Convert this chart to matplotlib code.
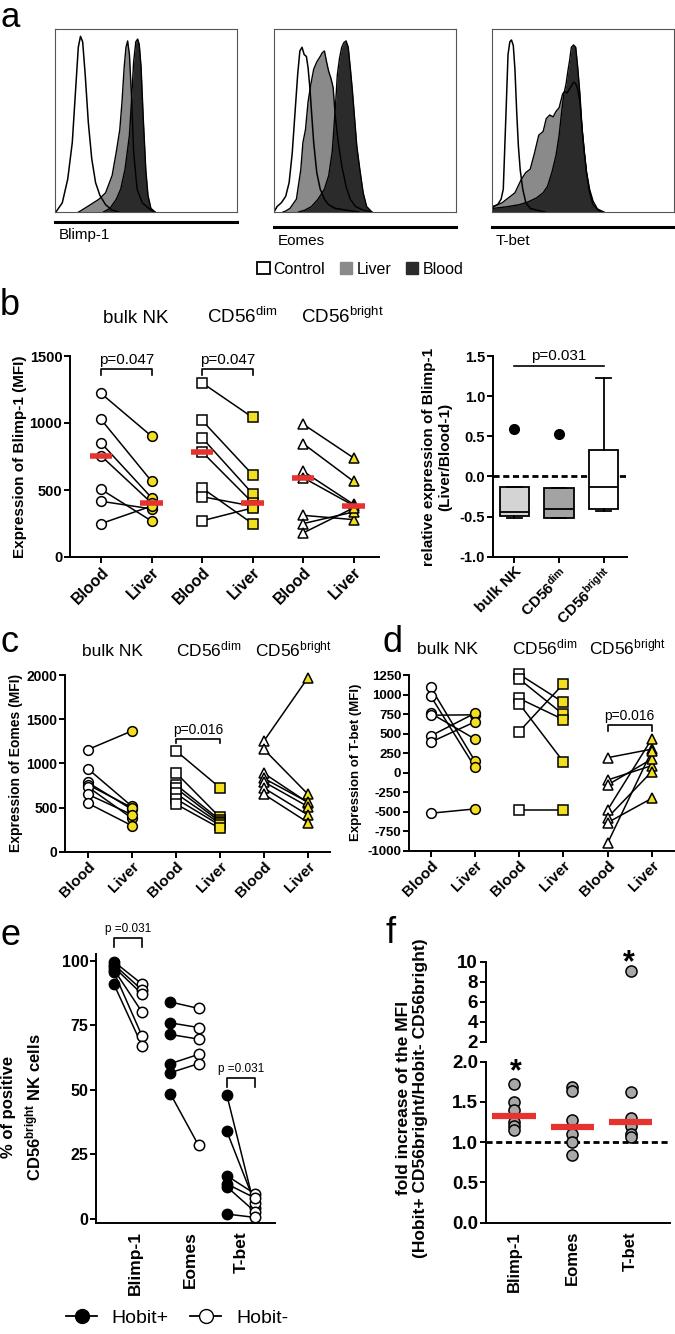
import numpy as np
import matplotlib.pyplot as plt
from matplotlib.patches import Patch
from matplotlib.lines import Line2D

plt.rcParams['font.family'] = ['Liberation Sans', 'DejaVu Sans']
plt.rcParams['mathtext.fontset'] = 'custom'
plt.rcParams['mathtext.rm'] = 'Liberation Sans'
plt.rcParams['mathtext.it'] = 'Liberation Sans:italic'
plt.rcParams['mathtext.bf'] = 'Liberation Sans:bold'

blimp_ctrl_x = [0.5, 4, 7, 9.5, 11.4, 12.8, 14, 15.2, 16.6, 18.3, 20.2, 22.3, 24.7, 27.8, 31.4, 35]
blimp_ctrl_y = [0, 5, 18, 38, 68, 90, 96, 93, 75, 49, 29, 16, 9, 4, 1, 0]
blimp_liver_x = [13, 14.7, 19.5, 24.2, 27.8, 31.4, 33.7, 35.6, 36.8, 38, 39, 39.9, 40.9, 42, 43.2, 45.1, 48, 52.7, 55]
blimp_liver_y = [0, 1, 4, 7, 10.5, 20, 33, 45, 60, 79, 90, 93.5, 86, 64, 33, 12.5, 5, 1, 0]
blimp_blood_x = [26.6, 30.2, 33.7, 36.1, 38.5, 40.9, 42, 43.2, 44.4, 45.4, 46.3, 47.3, 48.5, 49.9, 51.1, 52.7, 55]
blimp_blood_y = [0, 2, 7, 12.5, 23.5, 42, 60, 82, 93, 94.5, 91.5, 79, 51, 23, 9, 2, 0]

eomes_ctrl_x = [0, 1.7, 4, 6.4, 8.3, 10, 11.6, 13, 14.2, 15.4, 16.6, 17.8, 18.7, 19.7, 20.6, 21.8, 23.5, 25.4, 27.7, 30, 33.6, 39.6, 46.7]
eomes_ctrl_y = [0, 3, 5, 8.5, 16, 32, 55, 75, 88, 90, 86, 85, 79, 68, 55, 38, 21.5, 12.5, 7, 4, 2, 1, 0]
eomes_liver_x = [5, 6.4, 8.8, 12.3, 14.7, 15.9, 17.3, 18.7, 20.1, 21.8, 23.5, 25.4, 26.5, 27.7, 28.9, 30, 31.3, 32.5, 33.6, 35.3, 37.2, 39.6, 41.9, 44.8, 49, 53.8]
eomes_liver_y = [0, 0.5, 2, 7, 23, 38, 45, 60, 69, 78, 82, 85, 87, 88, 82, 77, 73, 68, 53, 38, 25.5, 14, 7, 3, 1, 0]
eomes_blood_x = [13.5, 17, 20.6, 24.2, 27.7, 30.1, 32, 32.9, 33.9, 34.8, 36, 37.2, 38.4, 39.6, 40.8, 41.9, 43.1, 44.3, 45.5, 47.2, 49, 50.9, 53.8]
eomes_blood_y = [0, 1, 3, 7, 12.5, 20, 33, 45.5, 60, 75, 84, 90, 92.6, 93.5, 90, 79, 66, 51, 36, 23, 10.5, 3, 0]

tbet_ctrl_x = [0, 0.7, 3.1, 5, 6.2, 6.9, 7.9, 8.8, 9.8, 10.7, 11.7, 12.6, 13.6, 14.5, 15.5, 16.9, 18.6, 21, 24.5, 29.3]
tbet_ctrl_y = [0, 3, 4, 7, 12.5, 32, 60, 86, 93, 94, 91, 78, 54, 36, 23, 12.5, 5, 2, 1, 0]
tbet_liver_x = [0, 0.7, 5.5, 9, 12.6, 16.2, 18.6, 21, 23.3, 25.7, 28.1, 29.8, 31.7, 33.6, 35.2, 36.9, 38.8, 40, 41.2, 43.1, 44.8, 46, 47.1, 48.3, 49.5, 50.7, 51.9, 53.6, 55.5, 57.9, 61.4]
tbet_liver_y = [0, 3, 5, 7.7, 10.5, 18, 21.6, 23.4, 32, 42, 44, 51, 53, 52, 55, 57, 64.5, 66, 65, 68, 71, 70, 67, 60, 45.5, 33, 22, 12.5, 6, 1.7, 0]
tbet_blood_x = [0, 0.7, 7.9, 15, 19.8, 24.5, 28.1, 30.5, 32.9, 35.2, 36.9, 38.3, 39.5, 40.7, 41.7, 42.6, 43.6, 44.8, 46, 47.1, 48.3, 49.5, 50.7, 51.9, 53.6, 55.5, 59, 61.4]
tbet_blood_y = [0, 2, 2.8, 4, 5.5, 7.7, 10.5, 14, 21.6, 31, 42, 55, 64.5, 70, 77, 82.5, 90, 91.3, 90, 79, 64.5, 45.5, 33, 22, 10.5, 4, 0.4, 0]

# ---- b: Blimp-1 MFI, paired blood / liver ----
b_bulk_blood = [1221, 1027, 852, 755, 505, 416, 249]
b_bulk_liver = [902, 566, 443, 404, 269, 359, 380]
b_dim_blood = [1300, 1020, 890, 785, 515, 450, 270]
b_dim_liver = [1042, 615, 473, 406, 249, 380, 366]
b_bri_blood = [992, 847, 640, 593, 311, 249, 179]
b_bri_liver = [740, 565, 393, 384, 279, 336, 366]

# b right: box plot of liver/blood - 1
box_groups = ['bulk NK', 'CD56$^{\\mathbf{dim}}$', 'CD56$^{\\mathbf{bright}}$']
box_q1 = [-0.498, -0.514, -0.41]
box_med = [-0.448, -0.41, -0.136]
box_q3 = [-0.128, -0.149, 0.329]
box_lo = [-0.514, -0.52, -0.43]
box_hi = [-0.128, -0.149, 1.23]
box_out = [[0.59], [0.528], []]

# ---- c: Eomes MFI ----
c_bulk_blood = [1155, 940, 785, 760, 735, 650, 550]
c_bulk_liver = [1366, 515, 480, 500, 380, 420, 295]
c_dim_blood = [1143, 894, 760, 720, 660, 600, 540]
c_dim_liver = [725, 390, 360, 340, 320, 300, 265]
c_bri_blood = [1253, 1158, 887, 830, 790, 720, 650]
c_bri_liver = [1970, 650, 555, 560, 510, 415, 330]

# ---- d: T-bet MFI ----
d_bulk_blood = [1090, 980, 760, 735, 470, 390, -520]
d_bulk_liver = [150, 70, 430, 740, 760, 650, -465]
d_dim_blood = [1260, 1200, 950, 885, 525, -480]
d_dim_liver = [900, 745, 680, 140, 1135, -480]
d_bri_blood = [191, -95, -159, -479, -578, -641, -906]
d_bri_liver = [300, 90, 174, 430, 12, -330, 276]

# ---- e: % positive CD56bright, Hobit+ vs Hobit- ----
e_targets = ['Blimp-1', 'Eomes', 'T-bet']
e_blimp_pos = [99.6, 98.5, 97.5, 96.5, 95.5, 90.8]
e_blimp_neg = [90.9, 88.6, 87.0, 80.0, 70.7, 67.0]
e_eomes_pos = [84.0, 75.9, 71.4, 60.1, 56.6, 48.4]
e_eomes_neg = [81.5, 74.1, 69.6, 63.7, 60.1, 28.4]
e_tbet_pos = [48.0, 33.9, 16.7, 13.5, 12.4, 1.8]
e_tbet_neg = [4.0, 6.0, 9.6, 8.0, 2.7, 0.5]

# ---- f: fold increase of MFI ----
f_blimp = [1.72, 1.5, 1.4, 1.25, 1.2, 1.15]
f_eomes = [1.68, 1.63, 1.28, 1.10, 1.0, 0.84]
f_tbet = [9.1, 1.62, 1.3, 1.2, 1.1, 1.07]

YEL = '#f2df1f'
RED = '#e53430'
LIV = '#8a8a8a'
BLD = '#2b2b2b'
GRY = '#a8a8a8'

W, H = 675, 1334
fig = plt.figure(figsize=(W / 100, H / 100), dpi=100)


def add_ax(x0, y0, x1, y1):
    # pixel box, y from top of the picture
    return fig.add_axes([x0 / W, 1 - y1 / H, (x1 - x0) / W, (y1 - y0) / H])


def ftext(x, y, s, **kw):
    return fig.text(x / W, 1 - y / H, s, **kw)


def fline(xs, ys, **kw):
    fig.add_artist(Line2D([x / W for x in xs], [1 - y / H for y in ys], **kw))


def fit_x(ax, left, right, first, step):
    ax.set_xlim(1 - (first - left) / step, 1 + (right - first) / step)


def prism(ax, yticks, ylabels, fs):
    for s in ['top', 'right']:
        ax.spines[s].set_visible(False)
    for s in ['left', 'bottom']:
        ax.spines[s].set_linewidth(1.4)
    ax.tick_params(direction='out', length=4, width=1.4, pad=1.5)
    ax.set_yticks(yticks)
    ax.set_yticklabels(ylabels, fontsize=fs, fontweight='bold')


def paired(ax, x0, blood, liver, marker, ms=7):
    for b, l in zip(blood, liver):
        ax.plot([x0, x0 + 1], [b, l], color='k', lw=1.1, zorder=2, clip_on=False)
    ax.plot([x0] * len(blood), blood, ls='none', marker=marker, ms=ms, mfc='white',
            mec='k', mew=1.1, zorder=3, clip_on=False)
    ax.plot([x0 + 1] * len(liver), liver, ls='none', marker=marker, ms=ms, mfc=YEL,
            mec='k', mew=1.1, zorder=3, clip_on=False)


def bracket(ax, x1, x2, y, drop, txt, fs, gap):
    ax.plot([x1, x1, x2, x2], [y - drop, y, y, y - drop], color='k', lw=1.2, clip_on=False)
    ax.text((x1 + x2) / 2, y + gap, txt, ha='center', va='bottom', fontsize=fs)


# ================= a =================
hist = [
    ('Blimp-1', 55, blimp_ctrl_x, blimp_ctrl_y, blimp_liver_x, blimp_liver_y, blimp_blood_x, blimp_blood_y, 222, 235),
    ('Eomes', 274, eomes_ctrl_x, eomes_ctrl_y, eomes_liver_x, eomes_liver_y, eomes_blood_x, eomes_blood_y, 227, 241),
    ('T-bet', 492, tbet_ctrl_x, tbet_ctrl_y, tbet_liver_x, tbet_liver_y, tbet_blood_x, tbet_blood_y, 227, 241),
]
for name, x0, cx, cy, lx, ly, bx, by, uy, ty in hist:
    ax = add_ax(x0, 29, x0 + 182, 212)
    ax.fill_between(lx, ly, 0, color=LIV, lw=0)
    ax.fill_between(bx, by, 0, color=BLD, lw=0)
    ax.plot(lx, ly, color='k', lw=1.0)
    ax.plot(bx, by, color='k', lw=1.0)
    ax.plot(cx, cy, color='k', lw=1.1)
    ax.set_xlim(0, 100)
    ax.set_ylim(0, 100)
    ax.set_xticks([])
    ax.set_yticks([])
    for s in ax.spines.values():
        s.set_linewidth(0.8)
        s.set_color('#555555')
    fline([x0, x0 + 182], [uy, uy], color='k', lw=2.2)
    ftext(x0 + 4, ty, name, ha='left', va='center', fontsize=11)

fig.legend(handles=[Patch(fc='white', ec='k', lw=1.3), Patch(fc=LIV, ec=LIV), Patch(fc=BLD, ec=BLD)],
           labels=['Control', 'Liver', 'Blood'], ncol=3, loc='center',
           bbox_to_anchor=(360 / W, 1 - 269 / H), frameon=False, fontsize=11.5,
           handlelength=0.8, handleheight=0.8, handletextpad=0.25, columnspacing=0.9,
           borderpad=0, borderaxespad=0)

# ================= b left =================
ax = add_ax(70, 356, 379, 557)
paired(ax, 1, b_bulk_blood, b_bulk_liver, 'o')
paired(ax, 3, b_dim_blood, b_dim_liver, 's')
paired(ax, 5, b_bri_blood, b_bri_liver, '^', ms=7.5)
for i, col in enumerate([b_bulk_blood, b_bulk_liver, b_dim_blood, b_dim_liver, b_bri_blood, b_bri_liver]):
    ax.hlines(np.median(col), i + 1 - 0.22, i + 1 + 0.22, color=RED, lw=4, zorder=4)
ax.set_ylim(0, 1500)
fit_x(ax, 70, 379, 101, 50.5)
prism(ax, [0, 500, 1000, 1500], ['0', '500', '1000', '1500'], 10.5)
ax.set_xticks(range(1, 7))
ax.set_xticklabels(['Blood', 'Liver'] * 3, rotation=45, ha='right', rotation_mode='anchor',
                   fontsize=11.5, fontweight='bold')
bracket(ax, 1, 2, 1405, 45, 'p=0.047', 11, 15)
bracket(ax, 3, 4, 1405, 45, 'p=0.047', 11, 15)
ftext(20, 457, 'Expression of Blimp-1 (MFI)', rotation=90, ha='center', va='center',
      fontsize=11, fontweight='bold')
ftext(136, 323, 'bulk NK', ha='center', va='baseline', fontsize=13.5)
ftext(242, 323, 'CD56$^{\\mathrm{dim}}$', ha='center', va='baseline', fontsize=13.5)
ftext(342, 323, 'CD56$^{\\mathrm{bright}}$', ha='center', va='baseline', fontsize=13.5)
ftext(0, 315, 'b', ha='left', va='baseline', fontsize=26)

# ================= b right =================
ax = add_ax(492.7, 356, 627, 556.7)
stats = [dict(q1=box_q1[i], med=box_med[i], q3=box_q3[i], whislo=box_lo[i],
              whishi=box_hi[i], fliers=box_out[i]) for i in range(3)]
res = ax.bxp(stats, positions=[1, 2, 3], widths=0.65, patch_artist=True,
             boxprops=dict(lw=1.3, ec='k'), medianprops=dict(color='k', lw=1.3),
             whiskerprops=dict(lw=1.3), capprops=dict(lw=1.3),
             flierprops=dict(marker='o', mfc='k', mec='k', ms=7))
for patch, fc in zip(res['boxes'], ['#d4d4d4', '#a3a3a3', 'white']):
    patch.set_facecolor(fc)
ax.axhline(0, ls=(0, (2.2, 1.3)), lw=2, color='k', zorder=1, clip_on=False)
ax.set_ylim(-1.0, 1.5)
fit_x(ax, 492.7, 627, 514.3, 44.7)
prism(ax, [-1.0, -0.5, 0.0, 0.5, 1.0, 1.5], ['-1.0', '-0.5', '0.0', '0.5', '1.0', '1.5'], 10.5)
ax.set_xticks([1, 2, 3])
ax.set_xticklabels(box_groups, rotation=45, ha='right', rotation_mode='anchor',
                   fontsize=11, fontweight='bold')
ax.plot([1, 3], [1.375, 1.375], color='k', lw=1.2, clip_on=False)
ax.text(2, 1.41, 'p=0.031', ha='center', va='bottom', fontsize=11)
ftext(437, 457, 'relative expression of Blimp-1\n(Liver/Blood-1)', rotation=90,
      ha='center', va='center', fontsize=11, fontweight='bold', linespacing=1.25)

# ================= c =================
ax = add_ax(65, 675, 330, 851.7)
paired(ax, 1, c_bulk_blood, c_bulk_liver, 'o')
paired(ax, 3, c_dim_blood, c_dim_liver, 's')
paired(ax, 5, c_bri_blood, c_bri_liver, '^', ms=7.5)
ax.set_ylim(0, 2000)
fit_x(ax, 65, 330, 87.7, 44.06)
prism(ax, [0, 500, 1000, 1500, 2000], ['0', '500', '1000', '1500', '2000'], 10)
ax.set_xticks(range(1, 7))
ax.set_xticklabels(['Blood', 'Liver'] * 3, rotation=45, ha='right', rotation_mode='anchor',
                   fontsize=11, fontweight='bold')
bracket(ax, 3, 4, 1275, 50, 'p=0.016', 10, 25)
ftext(16, 763, 'Expression of Eomes (MFI)', rotation=90, ha='center', va='center',
      fontsize=10, fontweight='bold')
ftext(112, 656, 'bulk NK', ha='center', va='baseline', fontsize=12.5)
ftext(209, 656, 'CD56$^{\\mathrm{dim}}$', ha='center', va='baseline', fontsize=12.5)
ftext(293, 656, 'CD56$^{\\mathrm{bright}}$', ha='center', va='baseline', fontsize=12.5)
ftext(0, 652, 'c', ha='left', va='baseline', fontsize=26)

# ================= d =================
ax = add_ax(409, 675, 674, 850.7)
paired(ax, 1, d_bulk_blood, d_bulk_liver, 'o')
paired(ax, 3, d_dim_blood, d_dim_liver, 's')
paired(ax, 5, d_bri_blood, d_bri_liver, '^', ms=7.5)
ax.set_ylim(-1000, 1250)
fit_x(ax, 409, 674, 430.7, 44.2)
dt = [-1000, -750, -500, -250, 0, 250, 500, 750, 1000, 1250]
prism(ax, dt, [str(v) for v in dt], 9.5)
ax.set_xticks(range(1, 7))
ax.set_xticklabels(['Blood', 'Liver'] * 3, rotation=45, ha='right', rotation_mode='anchor',
                   fontsize=11, fontweight='bold')
bracket(ax, 5, 6, 610, 75, 'p=0.016', 10, 30)
ftext(356, 762, 'Expression of T-bet (MFI)', rotation=90, ha='center', va='center',
      fontsize=9.5, fontweight='bold')
ftext(447, 654, 'bulk NK', ha='center', va='baseline', fontsize=12.5)
ftext(545, 654, 'CD56$^{\\mathrm{dim}}$', ha='center', va='baseline', fontsize=12.5)
ftext(627, 654, 'CD56$^{\\mathrm{bright}}$', ha='center', va='baseline', fontsize=12.5)
ftext(382, 652, 'd', ha='left', va='baseline', fontsize=26)

# ================= e =================
ax = add_ax(96, 954, 275, 1222.7)
e_pairs = [(e_blimp_pos, e_blimp_neg), (e_eomes_pos, e_eomes_neg), (e_tbet_pos, e_tbet_neg)]
for k, (pos, neg) in enumerate(e_pairs):
    x0 = 2 * k + 1
    for a, b in zip(pos, neg):
        ax.plot([x0, x0 + 1], [a, b], color='k', lw=1.1, zorder=2, clip_on=False)
    ax.plot([x0] * len(pos), pos, ls='none', marker='o', ms=7.5, mfc='k', mec='k',
            zorder=3, clip_on=False)
    ax.plot([x0 + 1] * len(neg), neg, ls='none', marker='o', ms=7.5, mfc='white', mec='k',
            mew=1.1, zorder=3, clip_on=False)
ax.set_ylim(-1.55, 102.6)
fit_x(ax, 96, 275, 114, 28.2)
prism(ax, [0, 25, 50, 75, 100], ['0', '25', '50', '75', '100'], 11.5)
ax.set_xticks([1.75, 3.7, 5.5])
ax.set_xticklabels(e_targets, rotation=90, fontsize=12.5, fontweight='bold')
ax.tick_params(axis='x', length=0, pad=6)
bracket(ax, 1, 2, 108.8, 3.4, 'p =0.031', 8.5, 1.2)
bracket(ax, 5, 6, 54.5, 3.4, 'p =0.031', 8.5, 1.2)
ftext(22, 1107, '% of positive\nCD56$^{\\mathbf{bright}}$ NK cells', rotation=90, ha='center',
      va='center', fontsize=12, fontweight='bold', linespacing=1.45)
ftext(0, 945, 'e', ha='left', va='baseline', fontsize=26)
fig.legend(handles=[Line2D([], [], color='k', lw=1.3, marker='o', ms=10, mfc='k', mec='k'),
                    Line2D([], [], color='k', lw=1.3, marker='o', ms=10, mfc='white', mec='k')],
           labels=['Hobit+', 'Hobit-'], ncol=2, loc='center',
           bbox_to_anchor=(177 / W, 1 - 1318 / H), frameon=False, fontsize=14,
           handlelength=1.6, handletextpad=0.75, columnspacing=1.1, borderpad=0, borderaxespad=0)

# ================= f =================
f_cols = [f_blimp, f_eomes, f_tbet]
axt = add_ax(485.7, 961.7, 670, 1041.7)
axb = add_ax(485.7, 1061.7, 670, 1222.7)
for k, col in enumerate(f_cols):
    hi = [v for v in col if v > 2]
    lo = [v for v in col if v <= 2]
    axb.plot([k + 1] * len(lo), lo, ls='none', marker='o', ms=8, mfc=GRY, mec='k', mew=1.1,
             zorder=3, clip_on=False)
    if hi:
        axt.plot([k + 1] * len(hi), hi, ls='none', marker='o', ms=8, mfc=GRY, mec='k', mew=1.1,
                 zorder=3, clip_on=False)
    axb.hlines(np.median(col), k + 1 - 0.37, k + 1 + 0.37, color=RED, lw=4.5, zorder=4)
axb.axhline(1.0, ls=(0, (2.2, 1.3)), lw=2, color='k', zorder=1)
for a in (axt, axb):
    fit_x(a, 485.7, 670, 514, 58.3)
axb.set_ylim(0, 2)
axt.set_ylim(2, 10)
prism(axb, [0, 0.5, 1.0, 1.5, 2.0], ['0.0', '0.5', '1.0', '1.5', '2.0'], 13.5)
prism(axt, [2, 4, 6, 8, 10], ['2', '4', '6', '8', '10'], 13.5)
axt.spines['bottom'].set_visible(False)
axt.set_xticks([])
axb.set_xticks([1, 2, 3])
axb.set_xticklabels(e_targets, rotation=90, fontsize=12, fontweight='bold')
axb.tick_params(axis='x', length=0, pad=6)
ftext(515.7, 1080.6, '*', ha='center', va='baseline', fontsize=22, fontweight='bold')
ftext(629, 971.6, '*', ha='center', va='baseline', fontsize=22, fontweight='bold')
ftext(412, 1098, 'fold increase of the MFI\n(Hobit+ CD56bright/Hobit- CD56bright)', rotation=90,
      ha='center', va='center', fontsize=12.5, fontweight='bold', linespacing=1.1)
ftext(385, 943, 'f', ha='left', va='baseline', fontsize=26)

ftext(0, 1, 'a', ha='left', va='top', fontsize=25)

fig.savefig('out.png', dpi=100)
